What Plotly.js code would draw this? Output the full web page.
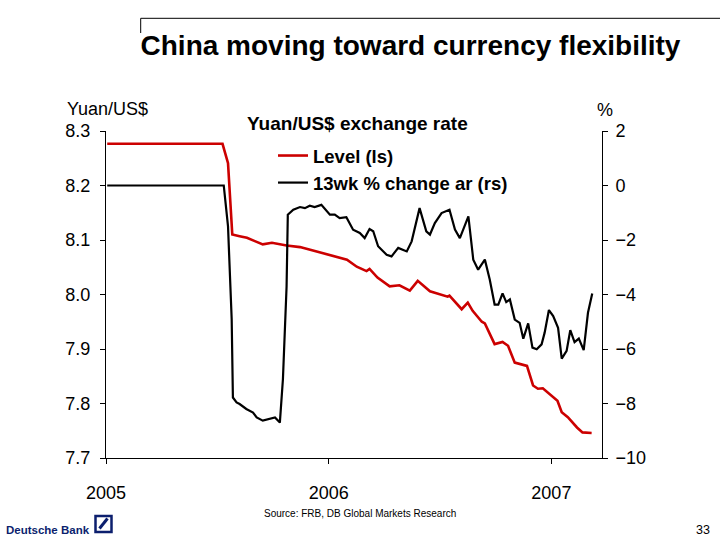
<!DOCTYPE html>
<html>
<head>
<meta charset="utf-8">
<script src="https://cdn.plot.ly/plotly-3.0.1.min.js"></script>
<style>html,body{margin:0;padding:0;background:#fff;}#chart{width:720px;height:540px;}</style>
</head>
<body>
<div id="chart"></div>
<script>
// ---- Data ----
const levelDates = ["2005-01-03","2005-07-11","2005-07-20","2005-07-27","2005-08-08","2005-08-20","2005-09-02","2005-09-15","2005-09-30","2005-10-24","2005-11-15","2005-12-12","2006-01-08","2006-01-31","2006-02-16","2006-03-04","2006-03-09","2006-03-22","2006-04-11","2006-04-27","2006-05-14","2006-05-27","2006-06-16","2006-07-15","2006-07-18","2006-08-07","2006-08-17","2006-08-25","2006-09-09","2006-09-14","2006-09-30","2006-10-13","2006-10-22","2006-11-02","2006-11-22","2006-12-02","2006-12-10","2006-12-18","2007-01-11","2007-01-18","2007-01-28","2007-02-12","2007-02-21","2007-03-08"];
const levelValues = [8.2765,8.2765,8.241,8.110,8.107,8.104,8.098,8.092,8.095,8.090,8.087,8.079,8.070,8.064,8.051,8.043,8.047,8.031,8.015,8.017,8.007,8.025,8.006,7.996,7.998,7.973,7.985,7.970,7.950,7.947,7.909,7.913,7.906,7.875,7.869,7.833,7.827,7.828,7.805,7.784,7.775,7.756,7.747,7.746];

const changeDates = ["2005-01-03","2005-07-13","2005-07-20","2005-07-26","2005-07-28","2005-08-03","2005-08-08","2005-08-19","2005-08-30","2005-09-05","2005-09-15","2005-09-26","2005-10-05","2005-10-13","2005-10-18","2005-10-24","2005-10-26","2005-11-04","2005-11-15","2005-11-23","2005-12-01","2005-12-09","2005-12-20","2006-01-03","2006-01-11","2006-01-19","2006-01-30","2006-02-10","2006-02-21","2006-03-01","2006-03-09","2006-03-15","2006-03-23","2006-04-06","2006-04-14","2006-04-25","2006-05-09","2006-05-17","2006-05-30","2006-06-10","2006-06-16","2006-06-24","2006-07-05","2006-07-18","2006-07-27","2006-08-04","2006-08-18","2006-08-26","2006-09-03","2006-09-14","2006-09-22","2006-09-30","2006-10-06","2006-10-13","2006-10-19","2006-10-25","2006-11-02","2006-11-10","2006-11-16","2006-11-24","2006-12-01","2006-12-08","2006-12-16","2006-12-21","2006-12-28","2007-01-04","2007-01-12","2007-01-18","2007-01-26","2007-02-01","2007-02-08","2007-02-15","2007-02-23","2007-03-02","2007-03-09"];
const changeValues = [0,0,-1.5,-4.9,-7.78,-7.96,-8.02,-8.2,-8.33,-8.51,-8.63,-8.55,-8.51,-8.7,-7.11,-3.7,-1.07,-0.89,-0.79,-0.83,-0.74,-0.79,-0.71,-1.07,-1.07,-1.2,-1.16,-1.62,-1.74,-1.93,-1.6,-1.68,-2.23,-2.54,-2.6,-2.29,-2.42,-2.05,-0.83,-1.68,-1.8,-1.38,-1.01,-0.89,-1.62,-1.93,-1.13,-2.72,-3.09,-2.72,-3.45,-4.37,-4.37,-3.96,-4.28,-4.18,-4.92,-5.04,-5.62,-5.06,-5.95,-6.01,-5.83,-5.4,-4.57,-4.79,-5.22,-6.35,-6.07,-5.31,-5.75,-5.62,-6.04,-4.67,-3.96];

const xTickVals = ["2005-01-01","2006-01-01","2007-01-01"];
const xTickText = ["2005","2006","2007"];
const seriesNames = ["Level (ls)","13wk % change ar (rs)"];

// ---- Layout helpers ----
const W = 720, H = 540;
const M = {l:106, r:118, t:131, b:82};
const PW = W - M.l - M.r, PH = H - M.t - M.b;
const px = x => (x - M.l) / PW;
const py = y => (H - M.b - y) / PH;
const FONT = "Liberation Sans, Arial, sans-serif";
const NAVY = "#0c1f6e";

const traces = [
  {x: levelDates, y: levelValues, name: seriesNames[0], type: "scatter", mode: "lines",
   line: {color: "#cc0000", width: 2.6}, yaxis: "y"},
  {x: changeDates, y: changeValues, name: seriesNames[1], type: "scatter", mode: "lines",
   line: {color: "#000000", width: 2.2}, yaxis: "y2"}
];

const axisCommon = {
  showgrid: false, zeroline: false, showline: true, linecolor: "#000", linewidth: 1,
  ticks: "outside", ticklen: 5, tickcolor: "#000", tickwidth: 1,
  tickfont: {family: FONT, size: 18, color: "#000"}
};

const layout = {
  width: W, height: H,
  margin: M,
  paper_bgcolor: "#fff", plot_bgcolor: "#fff",
  font: {family: FONT, color: "#000"},
  title: {text: "China moving toward currency flexibility",
          font: {family: FONT, size: 28, weight: "bold", color: "#000"},
          xref: "container", yref: "container", x: 410.5/W, xanchor: "center",
          y: 1 - 45/H, yanchor: "middle"},
  xaxis: Object.assign({}, axisCommon, {
    type: "date", range: ["2005-01-01","2007-03-25"],
    tickmode: "array", tickvals: xTickVals, ticktext: xTickText,
    ticklabelstandoff: 13
  }),
  yaxis: Object.assign({}, axisCommon, {
    range: [7.7, 8.3], dtick: 0.1, tick0: 7.7, tickformat: ".1f",
    ticklabelstandoff: 6
  }),
  yaxis2: Object.assign({}, axisCommon, {
    range: [-10, 2], dtick: 2, tick0: -10, overlaying: "y", side: "right",
    ticklabelstandoff: 4
  }),
  showlegend: true,
  legend: {x: px(273), xanchor: "left", y: py(137), yanchor: "top",
           bgcolor: "rgba(0,0,0,0)", borderwidth: 0,
           font: {family: FONT, size: 18.5, weight: "bold", color: "#000"},
           tracegroupgap: 0, itemwidth: 30},
  annotations: [
    {text: "Yuan/US$ exchange rate", xref: "paper", yref: "paper", x: px(357.5), y: py(123),
     xanchor: "center", yanchor: "middle", showarrow: false,
     font: {family: FONT, size: 19, weight: "bold", color: "#000"}},
    {text: "Yuan/US$", xref: "paper", yref: "paper", x: px(65), y: py(109),
     xanchor: "left", yanchor: "middle", showarrow: false,
     font: {family: FONT, size: 18, color: "#000"}},
    {text: "%", xref: "paper", yref: "paper", x: px(605), y: py(110),
     xanchor: "center", yanchor: "middle", showarrow: false,
     font: {family: FONT, size: 18, color: "#000"}},
    {text: "Source: FRB, DB Global Markets Research", xref: "paper", yref: "paper", x: px(360), y: py(513),
     xanchor: "center", yanchor: "middle", showarrow: false,
     font: {family: FONT, size: 10, color: "#000"}},
    {text: "Deutsche Bank", xref: "paper", yref: "paper", x: px(4), y: py(530),
     xanchor: "left", yanchor: "middle", showarrow: false,
     font: {family: FONT, size: 11.5, weight: "bold", color: NAVY}},
    {text: "33", xref: "paper", yref: "paper", x: px(712), y: py(530),
     xanchor: "right", yanchor: "middle", showarrow: false,
     font: {family: FONT, size: 12.5, color: "#000"}}
  ],
  shapes: [
    {type: "line", xref: "paper", yref: "paper", x0: px(140.7), x1: px(722), y0: py(18.3), y1: py(18.3),
     line: {color: "#000", width: 1}},
    {type: "line", xref: "paper", yref: "paper", x0: px(140.7), x1: px(140.7), y0: py(18.3), y1: py(33),
     line: {color: "#000", width: 1}},
    {type: "rect", xref: "paper", yref: "paper", x0: px(95.5), x1: px(111.5), y0: py(516), y1: py(532),
     line: {color: NAVY, width: 2.5}, fillcolor: "rgba(0,0,0,0)"},
    {type: "line", xref: "paper", yref: "paper", x0: px(99.5), x1: px(107.5), y0: py(528.5), y1: py(518.5),
     line: {color: NAVY, width: 3}}
  ]
};

Plotly.newPlot("chart", traces, layout, {displayModeBar: false, staticPlot: true});
</script>
</body>
</html>
